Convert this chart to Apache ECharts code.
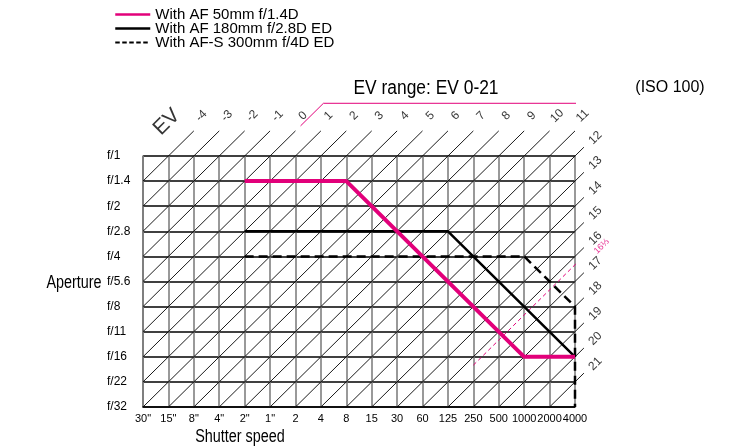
<!DOCTYPE html>
<html>
<head>
<meta charset="utf-8">
<script src="https://cdn.jsdelivr.net/npm/echarts@6/dist/echarts.min.js"></script>
<style>
html,body{margin:0;padding:0;background:#fff}
#main{width:734px;height:448px}
</style>
</head>
<body>
<div id="main"></div>
<script>
var shutterLabels = ['30"','15"','8"','4"','2"','1"','2','4','8','15','30','60','125','250','500','1000','2000','4000'];
var apertureLabels = ['f/1','f/1.4','f/2','f/2.8','f/4','f/5.6','f/8','f/11','f/16','f/22','f/32'];
var evTop = [-4,-3,-2,-1,0,1,2,3,4,5,6,7,8,9,10,11];
var evRight = [12,13,14,15,16,17,18,19,20,21];
var evRange = [0, 21];
var evMark = 16 + 1/3;
var lens50 = [['2"','f/1.4'],['8','f/1.4'],['1000','f/16'],['4000','f/16']];
var lens180 = [['2"','f/2.8'],['125','f/2.8'],['4000','f/16']];
var lens300 = [['2"','f/4'],['1000','f/4'],['4000','f/8'],['4000','f/32']];

var PINK = '#e2007a';
var SANS = "'Liberation Sans',Arial,sans-serif";

var maxX = shutterLabels.length - 1;
var maxY = apertureLabels.length - 1;

function pt(p) {
    return [shutterLabels.indexOf(p[0]), apertureLabels.indexOf(p[1])];
}

// EV lines: Tv + Av = EV, x = column index, y = row index -> x + y = EV + 5
var allEv = evTop.concat(evRight);
var diagonals = allEv.map(function (ev) {
    var s = ev + 5;
    var x0 = Math.max(0, s - maxY);
    var xe = s <= maxX - 1 ? s + 1 : maxX + 0.35;
    return { coords: [[x0, s - x0], [xe, s - xe]] };
});

var evLabels = [{ name: 'EV', value: [0.94, -1.35], label: { fontSize: 21 } }];
evTop.forEach(function (ev) {
    var s = ev + 5;
    evLabels.push({ name: String(ev), value: [s + 1.3, -1.6] });
});
evRight.forEach(function (ev) {
    var s = ev + 5;
    evLabels.push({ name: String(ev), value: [maxX + 0.8, s - maxX - 0.72] });
});
evLabels.push({ name: '16⅓', value: [18.05, 3.6], label: { fontSize: 9, color: PINK } });

var s0 = evRange[0] + 5, s1 = evRange[1] + 5;
var rangeBorder = [[6.2, s0 - 6.2], [7.1, s0 - 7.1], [18.5, s0 - 7.1], [18.5, s1 - 18.5], [18.1, s1 - 18.1]];
var sm = evMark + 5;
var markLine = [[13, sm - 13], [17.7, sm - 17.7]];

// narrow looking text: regular sans squeezed horizontally
function narrowText(x, y, text, size, sx) {
    return {
        type: 'text', x: x, y: y, scaleX: sx,
        style: { text: text, font: size + 'px ' + SANS, fill: '#000', align: 'center', verticalAlign: 'middle' }
    };
}

var chart = echarts.init(document.getElementById('main'));
var option = {
    backgroundColor: '#fff',
    animation: false,
    grid: { left: 143, right: 159, top: 156, bottom: 41 },
    legend: {
        data: [
            { name: 'With AF 50mm f/1.4D', lineStyle: { width: 2.5 } },
            { name: 'With AF 180mm f/2.8D ED', lineStyle: { width: 2.5 } },
            { name: 'With AF-S 300mm f/4D ED', lineStyle: { width: 2, type: [4.5, 2.5] } }
        ],
        orient: 'vertical',
        left: 109,
        top: 2,
        itemWidth: 35,
        itemHeight: 14,
        itemGap: -1,
        selectedMode: false,
        itemStyle: { opacity: 0 },
        textStyle: { fontSize: 15, fontFamily: SANS, color: '#000' }
    },
    xAxis: {
        type: 'value',
        min: 0,
        max: maxX,
        interval: 1,
        axisLine: { show: true, onZero: false, lineStyle: { color: '#000', width: 1.5 } },
        axisTick: { show: false },
        axisLabel: {
            formatter: function (v) { return shutterLabels[v] || ''; },
            fontSize: 11, fontFamily: SANS, color: '#000', margin: 6
        },
        splitLine: { show: true, lineStyle: { color: '#777', width: 1.5 } }
    },
    yAxis: {
        type: 'value',
        min: 0,
        max: maxY,
        interval: 1,
        inverse: true,
        axisLine: { show: true, onZero: false, lineStyle: { color: '#777', width: 1.5 } },
        axisTick: { show: false },
        axisLabel: {
            formatter: function (v) { return apertureLabels[v] || ''; },
            fontSize: 12, fontFamily: SANS, color: '#000', align: 'left', margin: 36
        },
        splitLine: { show: true, lineStyle: { color: '#000', width: 1.5 } }
    },
    graphic: [
        narrowText(74, 283, 'Aperture', 18, 0.8),
        narrowText(240, 437, 'Shutter speed', 18, 0.8),
        narrowText(426, 88, 'EV range: EV 0-21', 20, 0.87),
        { type: 'text', x: 670, y: 88, style: { text: '(ISO 100)', font: '16px ' + SANS, fill: '#000', align: 'center', verticalAlign: 'middle' } }
    ],
    series: [
        {
            type: 'lines',
            coordinateSystem: 'cartesian2d',
            silent: true,
            clip: false,
            z: 1,
            lineStyle: { color: '#000', width: 0.9, opacity: 1 },
            data: diagonals
        },
        {
            type: 'line',
            silent: true,
            clip: false,
            symbol: 'none',
            z: 2,
            lineStyle: { color: PINK, width: 1 },
            data: rangeBorder
        },
        {
            type: 'line',
            silent: true,
            clip: false,
            symbol: 'none',
            z: 2,
            lineStyle: { color: PINK, width: 1, type: [4, 3] },
            data: markLine
        },
        {
            type: 'scatter',
            silent: true,
            clip: false,
            symbolSize: 0,
            z: 3,
            label: {
                show: true,
                position: 'inside',
                formatter: '{b}',
                rotate: 45,
                fontSize: 12,
                fontFamily: SANS,
                color: '#000'
            },
            data: evLabels
        },
        {
            name: 'With AF 50mm f/1.4D',
            type: 'line',
            symbol: 'none',
            z: 6,
            lineStyle: { color: PINK, width: 4 },
            itemStyle: { color: PINK },
            data: lens50.map(pt)
        },
        {
            name: 'With AF 180mm f/2.8D ED',
            type: 'line',
            symbol: 'none',
            z: 5,
            lineStyle: { color: '#000', width: 2.5 },
            itemStyle: { color: '#000' },
            data: lens180.map(pt)
        },
        {
            name: 'With AF-S 300mm f/4D ED',
            type: 'line',
            symbol: 'none',
            clip: false,
            z: 5,
            lineStyle: { color: '#000', width: 2.5, type: [9, 5] },
            itemStyle: { color: '#000' },
            data: lens300.map(pt)
        }
    ]
};
chart.setOption(option);
</script>
</body>
</html>
